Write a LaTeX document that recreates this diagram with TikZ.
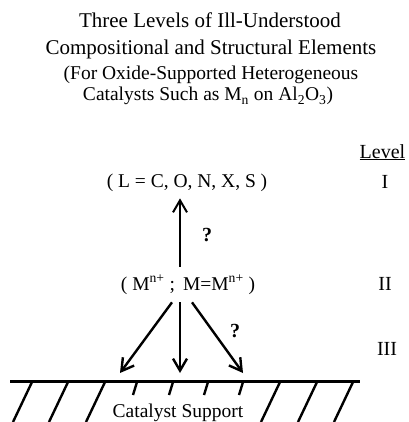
\documentclass[tikz,border=0pt]{standalone}
\usepackage{fontspec}
\setmainfont{Liberation Serif}
\usepackage{tikz}
\usetikzlibrary{positioning,arrows.meta,calc}

\begin{document}
\begin{tikzpicture}[
  x=1pt,y=-1pt,
  >={Straight Barb[length=12pt,width=14pt]},
  title/.style  ={font=\fontsize{21}{24}\selectfont,inner sep=0pt,anchor=base},
  subtitle/.style={font=\fontsize{19.5}{22}\selectfont,inner sep=0pt,anchor=base},
  lbl/.style    ={font=\fontsize{19.5}{22}\selectfont,inner sep=0pt,anchor=base},
  lvl/.style    ={font=\fontsize{20}{22}\selectfont,inner sep=0pt,anchor=base},
  qmark/.style  ={font=\fontsize{20}{22}\selectfont\bfseries,inner sep=0pt},
  flow/.style   ={->,line width=2.4pt},
  ground/.style ={line width=3pt},
  hatch/.style  ={line width=2.4pt},
]
\useasboundingbox (0,0) rectangle (408,422);

% =====================================================================
% TITLE
% =====================================================================
\node[title]    (titleA) at (210,28)  {Three Levels of Ill-Understood};
\node[title]    (titleB) at (211,55)  {Compositional and Structural Elements};
\node[subtitle] (titleC) at (211,80)  {(For Oxide-Supported Heterogeneous};
\node[subtitle] (titleD) at (208,101)
  {Catalysts Such as M\textsubscript{n} on Al\textsubscript{2}O\textsubscript{3})};

% =====================================================================
% LEVEL COLUMN
% =====================================================================
\node[lvl] (lvlHead) at (382.5,158) {\underline{Level}};
\node[lvl] (lvlI)   at (385,188) {I};
\node[lvl] (lvlII)  at (385,290) {II};
\node[lvl] (lvlIII) at (387,355) {III};

% =====================================================================
% SPECIES
% =====================================================================
\node[lbl] (ligand) at (187,187) {( L = C, O, N, X, S )};
\node[lbl] (metal)  at (188,290)
  {( M\textsuperscript{n+} ;\, M=M\textsuperscript{n+} )};

\draw[flow,line width=2pt] ($(metal.north)+(-8,-8)$) -- ($(ligand.south)+(-7,7)$);
\node[qmark] (qUp) at (207,235) {?};

% =====================================================================
% CATALYST SUPPORT
% =====================================================================
\coordinate (gndL) at (10,381);
\coordinate (gndR) at (360,381);
\draw[ground] (gndL) -- (gndR);

\foreach \x in {32,68,105,280,317,353}
  \draw[hatch] (\x,382) -- ++(-19,40);
\foreach \x in {137,173,208,243}
  \draw[hatch] (\x,382) -- ++(-4,13);

\node[lbl] (support) at (178,417) {Catalyst Support};

\draw[flow] ($(metal.south)+(-16,8)$) -- ($(gndL)+(110,-8)$);
\draw[flow] ($(metal.south)+(-8,8)$)  -- ($(gndL)+(170,-8)$);
\draw[flow] ($(metal.south)+(4,8)$)   -- ($(gndL)+(233,-8)$);
\node[qmark] (qDown) at (235,331) {?};

\end{tikzpicture}
\end{document}
